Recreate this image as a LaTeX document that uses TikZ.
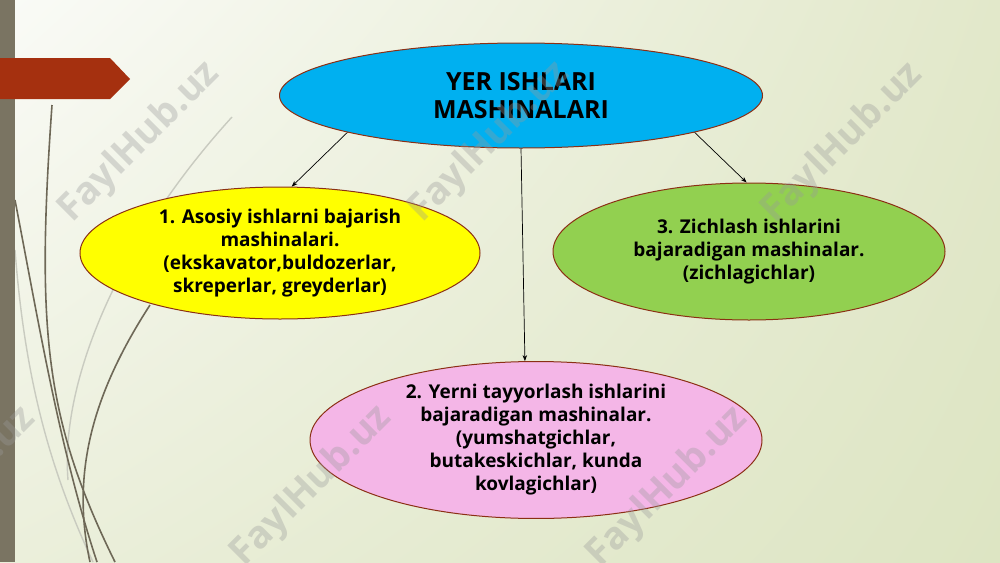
\documentclass[tikz,border=0pt]{standalone}
\usepackage{fontspec}
\setmainfont{Open Sans}
\usetikzlibrary{shapes.geometric,arrows.meta,shadings}
\definecolor{bgA}{HTML}{FAFBF7}
\definecolor{bgB}{HTML}{E2E8CA}
\definecolor{bgC}{HTML}{EBEFDB}
\definecolor{bgD}{HTML}{DDE5C3}
\definecolor{barcol}{HTML}{7A7462}
\definecolor{redtab}{HTML}{A5300F}
\definecolor{curvecol}{HTML}{6E6857}
\definecolor{lightcurve}{HTML}{C9CBC0}
\definecolor{edgecol}{HTML}{8B2F14}
\definecolor{blueF}{HTML}{00B0F0}
\definecolor{yellowF}{HTML}{FFFF00}
\definecolor{greenF}{HTML}{92D050}
\definecolor{pinkF}{HTML}{F4B6E7}
\definecolor{wmcol}{HTML}{9A9A9A}
\tikzset{
  oval/.style={ellipse, draw=edgecol, line width=1pt, inner sep=0pt, align=center,
    font=\bfseries\fontsize{19}{23}\selectfont},
  conn/.style={-{Stealth[length=6pt,width=4.5pt]}, line width=0.7pt, black},
  wm/.style={rotate=45, text=wmcol, opacity=0.35, font=\bfseries\fontsize{38}{38}\selectfont},
  deco/.style={curvecol, line width=1.6pt},
  decolight/.style={lightcurve, line width=1.4pt}
}
\begin{document}
\begin{tikzpicture}[x=1pt,y=-1pt]
\useasboundingbox (0,0) rectangle (1000,562);
% background
\shade[upper left=bgA, upper right=bgB, lower left=bgC, lower right=bgD] (0,0) rectangle (1000,562);
% decorative curves
\draw[decolight] (232,117) .. controls (120,240) and (60,380) .. (68,480);
\draw[decolight] (15,250) .. controls (25,380) and (50,470) .. (93,562);
\draw[deco] (52,105) .. controls (36,330) and (45,420) .. (115,562);
\draw[deco] (15,200) .. controls (40,330) and (60,450) .. (97,562);
\draw[deco] (150,305) .. controls (95,390) and (70,470) .. (90,562);
% left bar and red tab
\fill[barcol] (0,0) rectangle (15,562);
\fill[redtab] (0,58) -- (110,58) -- (130,79) -- (110,99) -- (0,99) -- cycle;
% nodes
\node[oval, fill=blueF, minimum width=483pt, minimum height=105pt, font=\bfseries\fontsize{25}{28}\selectfont] (top) at (521,95.5) {YER ISHLARI\\MASHINALARI};
\node[oval, fill=yellowF, minimum width=400pt, minimum height=132pt] (one) at (280,253) {1. Asosiy ishlarni bajarish\\mashinalari.\\(ekskavator,buldozerlar,\\skreperlar, greyderlar)};
\node[oval, fill=greenF, minimum width=392pt, minimum height=137pt] (three) at (749,251.5) {3. Zichlash ishlarini\\bajaradigan mashinalar.\\(zichlagichlar)};
\node[oval, fill=pinkF, minimum width=452pt, minimum height=145pt] (two) at (536,440) {2. Yerni tayyorlash ishlarini\\bajaradigan mashinalar.\\(yumshatgichlar,\\butakeskichlar, kunda\\kovlagichlar)};
% connectors
\draw[conn] (top.192) -- (one.80);
\draw[conn] (top.270) -- (two.98);
\draw[conn] (top.348) -- (three.92);
% watermarks
\node[wm] (w1) at (140,142) {FaylHub.uz};
\node[wm] (w2) at (490,142) {FaylHub.uz};
\node[wm] (w3) at (843,143) {FaylHub.uz};
\node[wm] (w4) at (-44,487) {FaylHub.uz};
\node[wm] (w5) at (312,486) {FaylHub.uz};
\node[wm] (w6) at (668,487) {FaylHub.uz};
\end{tikzpicture}
\end{document}
